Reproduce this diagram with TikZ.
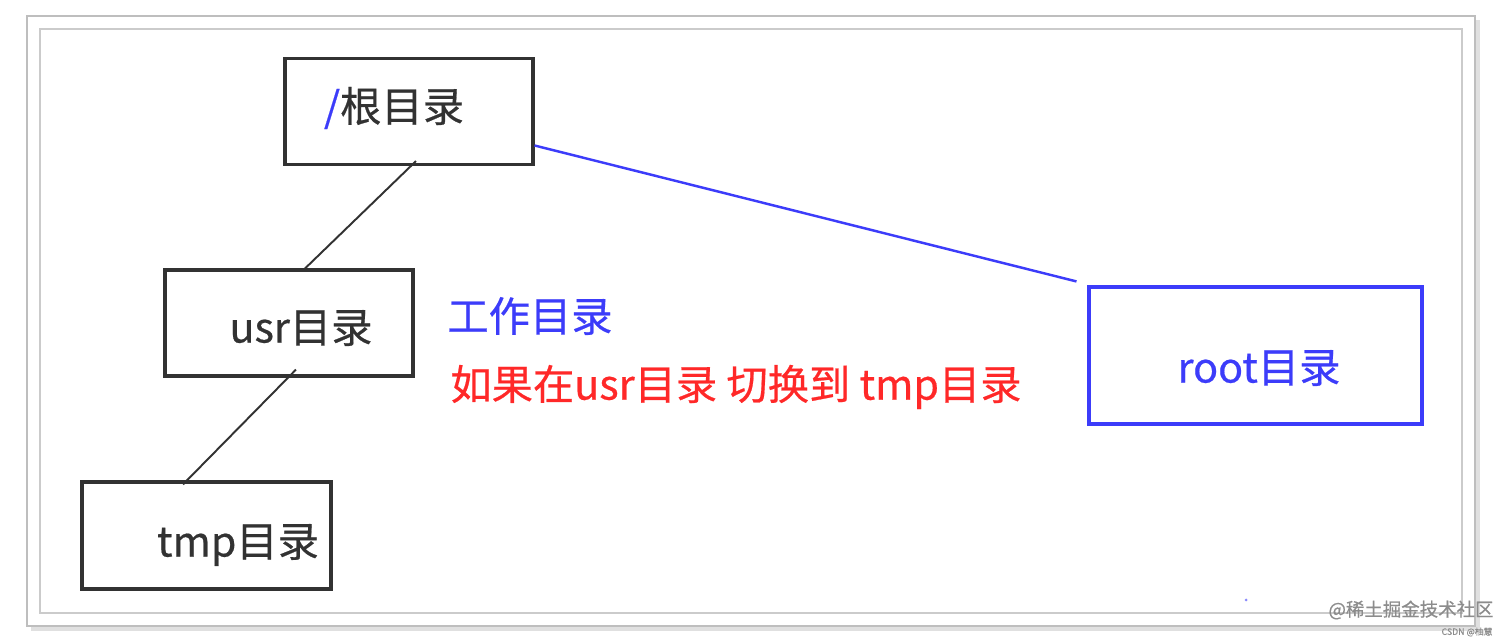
\documentclass[tikz,border=0pt]{standalone}
\usepackage{fontspec}
\setmainfont[FakeBold=0.5]{Noto Sans CJK SC}
\usepackage{tikz}
\usetikzlibrary{calc,positioning}
\definecolor{dirblue}{RGB}{60,60,250}
\definecolor{notered}{RGB}{255,40,40}
\definecolor{boxgray}{RGB}{50,50,50}
\definecolor{framegray}{RGB}{190,190,190}
\tikzset{
    dirbox/.style={
    rectangle,draw=boxgray,line width=1.8pt,inner sep=0pt
    },
    rootbox/.style={
    rectangle,draw=dirblue,line width=1.8pt,inner sep=0pt
    },
    dirtext/.style={
    font=\fontsize{23.5}{27}\selectfont,text=boxgray,inner sep=0pt
    },
    conn/.style={
    draw=boxgray,line width=1.1pt
    },
    bconn/.style={
    draw=dirblue,line width=1.4pt
    },
}
\begin{document}
\begin{tikzpicture}[x=0.02cm, y=-0.02cm]
   \useasboundingbox (0,0) rectangle (1512,644);
   % frame
   \fill[black!12] (31,20) rectangle (1480,631);
   \draw[framegray,fill=white,line width=0.8pt] (27,16) rectangle (1475,626);
   \draw[framegray!80,line width=0.8pt] (40,29) rectangle (1462,613);
   % boxes
   \node[dirbox,minimum width=4.96cm,minimum height=2.12cm] (rootdir) at (409,111.5) {};
   \node[dirbox,minimum width=4.96cm,minimum height=2.12cm] (usrdir) at (289,323) {};
   \node[dirbox,minimum width=4.98cm,minimum height=2.14cm] (tmpdir) at (206.5,535.5) {};
   \node[rootbox,minimum width=6.66cm,minimum height=2.74cm] (rootuser) at (1255.5,355.5) {};
   % labels
   \node[dirtext] (rootlbl) at (394,108) {{\color{dirblue}/}根目录};
   \node[dirtext] (usrlbl) at (301,328) {usr目录};
   \node[dirtext] (tmplbl) at (238,545) {tmp目录};
   \node[dirtext,text=dirblue] (rootulbl) at (1259,368) {root目录};
   \node[dirtext,text=dirblue] (worklbl) at (530,316) {工作目录};
   \node[dirtext,text=notered] (notelbl) at (736,387) {如果在usr目录 切换到 tmp目录};
   % watermark
   \node[font=\fontsize{10.5}{12}\selectfont,text=black!45,inner sep=0pt] (wmark) at (1411,610) {@稀土掘金技术社区};
   \node[font=\fontsize{5}{6}\selectfont,text=black!45,inner sep=0pt] (csdn) at (1467,632) {CSDN @柚慧};
   \fill[dirblue!60] (1246,600) circle (1.5);

  \path[conn]
    ($(rootdir.south)+(7,-5)$) edge ($(usrdir.north)+(14,2)$)
    ($(usrdir.south)+(7,-8)$) edge ($(tmpdir.north)+(-23.5,4)$);
  \path[bconn]
    ($(rootdir.east)+(0,34)$) edge ($(rootuser.north west)+(-11,-4)$);
  \end{tikzpicture}
\end{document}
